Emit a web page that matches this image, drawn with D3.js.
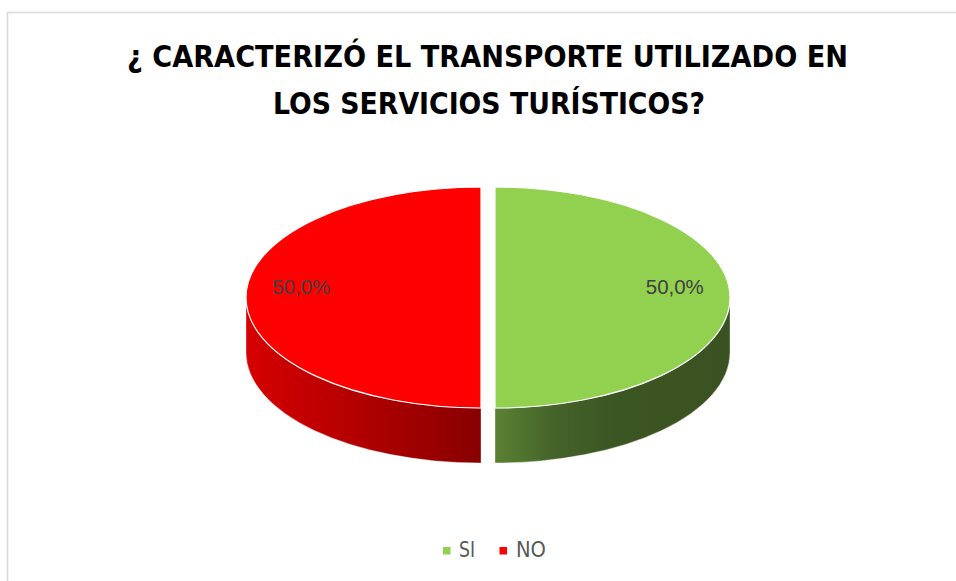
<!DOCTYPE html>
<html>
<head>
<meta charset="utf-8">
<script src="https://cdn.jsdelivr.net/npm/d3@7"></script>
<style>
  html, body { margin: 0; padding: 0; background: #fff; }
  svg { display: block; }
</style>
</head>
<body>
<svg id="chart" width="956" height="581"></svg>
<script>
// ---- data ----
const categories = ["SI", "NO"];
const values = [50, 50];
const topColors = ["#92D050", "#FF0000"];
const titleLines = ["¿ CARACTERIZÓ EL TRANSPORTE UTILIZADO EN", "LOS SERVICIOS TURÍSTICOS?"];

// ---- layout ----
const W = 956, H = 581;
const svg = d3.select("#chart");
const cx = 488, cy = 297.5, rx = 235, ry = 110.5, depth = 55, explode = 7;

// border
svg.append("rect").attr("x", 7.5).attr("y", 12.5).attr("width", 1000).attr("height", 1000)
  .attr("fill", "none").attr("stroke", "#d9d9d9").attr("stroke-width", 1.5);

// title
const titleSpec = [{x: 127, y: 67, len: 721}, {x: 273, y: 113.5, len: 432}];
svg.selectAll("text.title").data(titleLines).join("text")
  .attr("class", "title")
  .attr("x", (d, i) => titleSpec[i].x)
  .attr("y", (d, i) => titleSpec[i].y)
  .attr("textLength", (d, i) => titleSpec[i].len)
  .attr("lengthAdjust", "spacingAndGlyphs")
  .attr("font-family", "'Liberation Sans Narrow', 'DejaVu Sans Condensed', sans-serif")
  .attr("font-weight", "bold")
  .attr("font-size", 30)
  .attr("fill", "#000")
  .text(d => d);

// pie
const pie = d3.pie().sort(null).value(d => d);
const arcs = pie(values);
const fmt = d3.formatLocale({decimal: ",", thousands: ".", grouping: [3], currency: ["", "€"]}).format(".1%");
const total = d3.sum(values);

const defs = svg.append("defs");
// stops run left -> right across each visible wall
const wallStops = [
  [["0%", "#5A8233"], ["25%", "#44632A"], ["50%", "#3C5623"], ["100%", "#3A5221"]],
  [["0%", "#D60000"], ["40%", "#B80000"], ["75%", "#9C0000"], ["100%", "#880000"]]
];

function pt(a, ox, oy, dz) {
  return [ox + rx * Math.sin(a), oy - ry * Math.cos(a) + (dz || 0)];
}

const slices = arcs.map((d, i) => {
  const mid = (d.startAngle + d.endAngle) / 2;
  const ox = cx + explode * Math.sin(mid);
  const oy = cy - explode * Math.cos(mid) * ry / rx;
  return {d, i, mid, ox, oy};
});

// walls
slices.forEach(s => {
  const w0 = Math.max(s.d.startAngle, Math.PI / 2);
  const w1 = Math.min(s.d.endAngle, 3 * Math.PI / 2);
  if (w1 <= w0) return;
  const p0 = pt(w0, s.ox, s.oy), p1 = pt(w1, s.ox, s.oy);
  const q0 = pt(w0, s.ox, s.oy, depth), q1 = pt(w1, s.ox, s.oy, depth);
  const xs = [p0[0], p1[0]];
  const gid = "wall" + s.i;
  const g = defs.append("linearGradient").attr("id", gid)
    .attr("gradientUnits", "userSpaceOnUse")
    .attr("x1", d3.min(xs)).attr("x2", d3.max(xs))
    .attr("y1", 0).attr("y2", 0);
  wallStops[s.i].forEach(st => g.append("stop").attr("offset", st[0]).attr("stop-color", st[1]));
  const large = (w1 - w0) > Math.PI ? 1 : 0;
  const path = `M${p0}A${rx},${ry} 0 ${large} 1 ${p1}L${q1}A${rx},${ry} 0 ${large} 0 ${q0}Z`;
  svg.append("path").attr("d", path).attr("fill", `url(#${gid})`)
    .attr("stroke", "#fff").attr("stroke-width", 0.6).attr("stroke-opacity", 0.6);
});

// tops
slices.forEach(s => {
  const p0 = pt(s.d.startAngle, s.ox, s.oy), p1 = pt(s.d.endAngle, s.ox, s.oy);
  const large = (s.d.endAngle - s.d.startAngle) > Math.PI ? 1 : 0;
  const path = `M${s.ox},${s.oy}L${p0}A${rx},${ry} 0 ${large} 1 ${p1}Z`;
  svg.append("path").attr("d", path).attr("fill", topColors[s.i])
    .attr("stroke", "#fff").attr("stroke-width", 1.2).attr("stroke-linejoin", "round");
});

// data labels
slices.forEach(s => {
  const lx = s.ox + 0.765 * rx * Math.sin(s.mid);
  const ly = s.oy - 0.765 * ry * Math.cos(s.mid) - 10.5;
  svg.append("text")
    .attr("x", lx).attr("y", ly + 7)
    .attr("text-anchor", "middle")
    .attr("textLength", 58).attr("lengthAdjust", "spacingAndGlyphs")
    .attr("font-family", "'Liberation Sans', Arial, sans-serif")
    .attr("font-size", 19.5)
    .attr("fill", "#404040")
    .text(fmt(values[s.i] / total));
});

// legend
const legendSpec = [{sx: 443, tx: 459, len: 16}, {sx: 499.5, tx: 516, len: 30}];
const lg = svg.append("g");
categories.forEach((c, i) => {
  lg.append("rect").attr("x", legendSpec[i].sx).attr("y", 547).attr("width", 7.5).attr("height", 7.5)
    .attr("fill", topColors[i]);
  lg.append("text").attr("x", legendSpec[i].tx).attr("y", 557.3)
    .attr("textLength", legendSpec[i].len).attr("lengthAdjust", "spacingAndGlyphs")
    .attr("font-family", "'Liberation Sans Narrow', 'DejaVu Sans Condensed', sans-serif")
    .attr("font-size", 22)
    .attr("fill", "#595959")
    .text(c);
});
</script>
</body>
</html>
